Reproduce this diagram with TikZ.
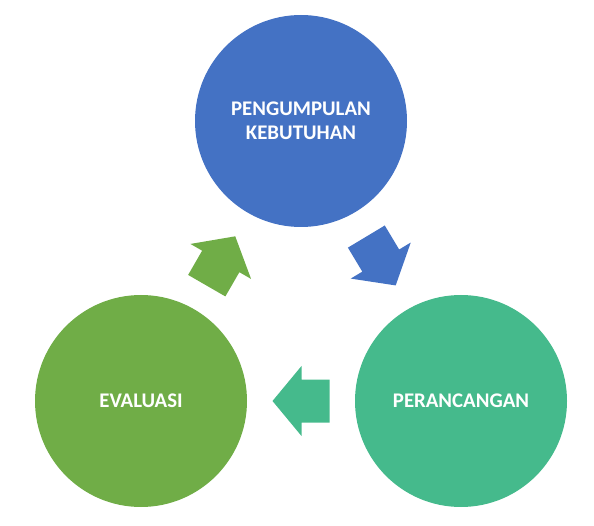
\documentclass[tikz,border=0pt]{standalone}
\usepackage{fontspec}
\setmainfont{Carlito}
\usetikzlibrary{calc}
\definecolor{cblue}{HTML}{4472C4}
\definecolor{cgreen}{HTML}{70AD47}
\definecolor{cteal}{HTML}{45BA8C}
\tikzset{
  phase/.style={circle, fill=#1, draw=none, minimum size=212pt, inner sep=0pt,
    text=white, font=\fontsize{20.8}{24}\selectfont\bfseries, align=center},
  flowarrow/.pic={
    \fill[pic actions] (28.5,0) -- (-0.5,35) -- (-0.5,21.5) -- (-28.5,21.5)
      -- (-28.5,-21.5) -- (-0.5,-21.5) -- (-0.5,-35) -- cycle;
  }
}
\begin{document}
\begin{tikzpicture}[x=1pt,y=1pt]
\useasboundingbox (0,0) rectangle (594,525);
\node[phase=cblue]  (top)   at (301,404) {PENGUMPULAN\\KEBUTUHAN};
\node[phase=cgreen] (left)  at (141,124) {EVALUASI};
\node[phase=cteal]  (right) at (461,124) {PERANCANGAN};
\coordinate (a1) at ($(top)!0.5!(right)$);
\coordinate (a2) at ($(right)!0.5!(left)$);
\coordinate (a3) at ($(left)!0.5!(top)$);
\pic[fill=cblue, rotate=-59] at (a1) {flowarrow};
\pic[fill=cteal, rotate=180] at (a2) {flowarrow};
\pic[fill=cgreen, rotate=60] at (a3) {flowarrow};
\end{tikzpicture}
\end{document}
